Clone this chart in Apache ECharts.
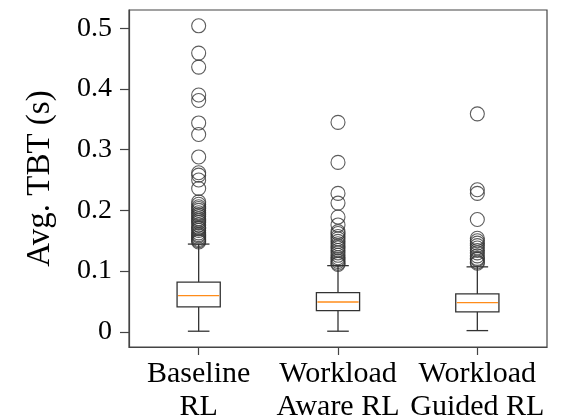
<!DOCTYPE html>
<html>
<head>
<meta charset="utf-8">
<script src="https://cdn.jsdelivr.net/npm/echarts@6/dist/echarts.min.js"></script>
<style>
html,body{margin:0;padding:0;background:#fff;}
#chart{width:561px;height:420px;}
</style>
</head>
<body>
<div id="chart"></div>
<script>
const categories = ['Baseline\nRL', 'Workload\nAware RL', 'Workload\nGuided RL'];
// [min, Q1, median, Q3, max]
const baselineBox = [0.001, 0.041, 0.0596, 0.082, 0.1445];
const awareBox = [0.001, 0.035, 0.049, 0.0645, 0.109];
const guidedBox = [0.002, 0.033, 0.048, 0.0624, 0.107];
const baselineOutliers = [0.148, 0.150, 0.152, 0.155, 0.158, 0.160, 0.163, 0.167, 0.170, 0.172, 0.176, 0.180, 0.183, 0.186, 0.190, 0.193, 0.196, 0.200, 0.203, 0.206, 0.210, 0.214, 0.236, 0.250, 0.258, 0.262, 0.288, 0.325, 0.344, 0.381, 0.390, 0.436, 0.459, 0.504];
const awareOutliers = [0.111, 0.113, 0.116, 0.119, 0.122, 0.126, 0.130, 0.134, 0.138, 0.141, 0.145, 0.149, 0.153, 0.157, 0.162, 0.165, 0.176, 0.189, 0.212, 0.228, 0.279, 0.345];
const guidedOutliers = [0.113, 0.115, 0.119, 0.121, 0.125, 0.130, 0.134, 0.138, 0.142, 0.146, 0.150, 0.154, 0.185, 0.228, 0.234, 0.359];
const yTicks = [0, 0.1, 0.2, 0.3, 0.4, 0.5];

const boxes = [baselineBox, awareBox, guidedBox];
const outlierSets = [baselineOutliers, awareOutliers, guidedOutliers];
const boxData = boxes.map((b, i) => [i].concat(b));
const outlierData = [];
outlierSets.forEach((set, i) => set.forEach(v => outlierData.push([i, v])));

const lineColor = '#333';
const font = 'Liberation Serif';

function renderBox(params, api) {
  const x = api.value(0);
  const pMin = api.coord([x, api.value(1)]);
  const pQ1 = api.coord([x, api.value(2)]);
  const pMed = api.coord([x, api.value(3)]);
  const pQ3 = api.coord([x, api.value(4)]);
  const pMax = api.coord([x, api.value(5)]);
  const bw = api.size([1, 0])[0] * 0.31;
  const cw = bw / 2;
  const cx = pMin[0];
  const ls = {stroke: lineColor, lineWidth: 1.3, fill: null};
  return {
    type: 'group',
    children: [
      {type: 'line', shape: {x1: cx, y1: pMin[1], x2: cx, y2: pQ1[1]}, style: ls},
      {type: 'line', shape: {x1: cx, y1: pQ3[1], x2: cx, y2: pMax[1]}, style: ls},
      {type: 'line', shape: {x1: cx - cw / 2, y1: pMin[1], x2: cx + cw / 2, y2: pMin[1]}, style: ls},
      {type: 'line', shape: {x1: cx - cw / 2, y1: pMax[1], x2: cx + cw / 2, y2: pMax[1]}, style: ls},
      {type: 'rect', shape: {x: cx - bw / 2, y: pQ3[1], width: bw, height: pQ1[1] - pQ3[1]}, style: {stroke: lineColor, lineWidth: 1.3, fill: '#fff'}},
      {type: 'line', shape: {x1: cx - bw / 2 + 1, y1: pMed[1], x2: cx + bw / 2 - 1, y2: pMed[1]}, style: {stroke: '#ff8c1a', lineWidth: 1.4}}
    ]
  };
}

const chart = echarts.init(document.getElementById('chart'), null, {renderer: 'canvas'});
chart.setOption({
  animation: false,
  backgroundColor: '#fff',
  grid: {left: 129, right: 14, top: 10, bottom: 73, outerBoundsMode: 'none', containLabel: false, show: true, borderColor: '#444', borderWidth: 1.2, backgroundColor: 'transparent'},
  xAxis: {
    type: 'category',
    data: categories,
    boundaryGap: true,
    axisLine: {show: true, onZero: false, lineStyle: {color: '#444', width: 1.2}},
    axisTick: {show: true, alignWithLabel: true, length: 8, lineStyle: {color: '#444', width: 1.2}},
    axisLabel: {color: '#000', fontFamily: font, fontSize: 30, lineHeight: 33, margin: 11, interval: 0},
    splitLine: {show: false}
  },
  yAxis: {
    type: 'value',
    min: -0.025,
    max: 0.53,
    name: 'Avg. TBT (s)',
    nameLocation: 'middle',
    nameGap: 72,
    nameTextStyle: {color: '#000', fontFamily: font, fontSize: 33},
    axisLine: {show: true, lineStyle: {color: '#444', width: 1.2}},
    axisTick: {show: true, length: 9, customValues: yTicks, lineStyle: {color: '#444', width: 1.2}},
    axisLabel: {color: '#000', fontFamily: font, fontSize: 28, margin: 17, customValues: yTicks,
      formatter: v => (Math.abs(v) < 1e-9 ? '0' : v.toFixed(1))},
    splitLine: {show: false}
  },
  series: [
    {
      type: 'custom',
      renderItem: renderBox,
      data: boxData,
      encode: {x: 0, y: [1, 2, 3, 4, 5]},
      z: 3
    },
    {
      type: 'scatter',
      data: outlierData,
      symbol: 'circle',
      symbolSize: 14,
      itemStyle: {color: 'rgba(0,0,0,0)', borderColor: '#333', borderWidth: 1.1},
      z: 4
    }
  ]
});
</script>
</body>
</html>
